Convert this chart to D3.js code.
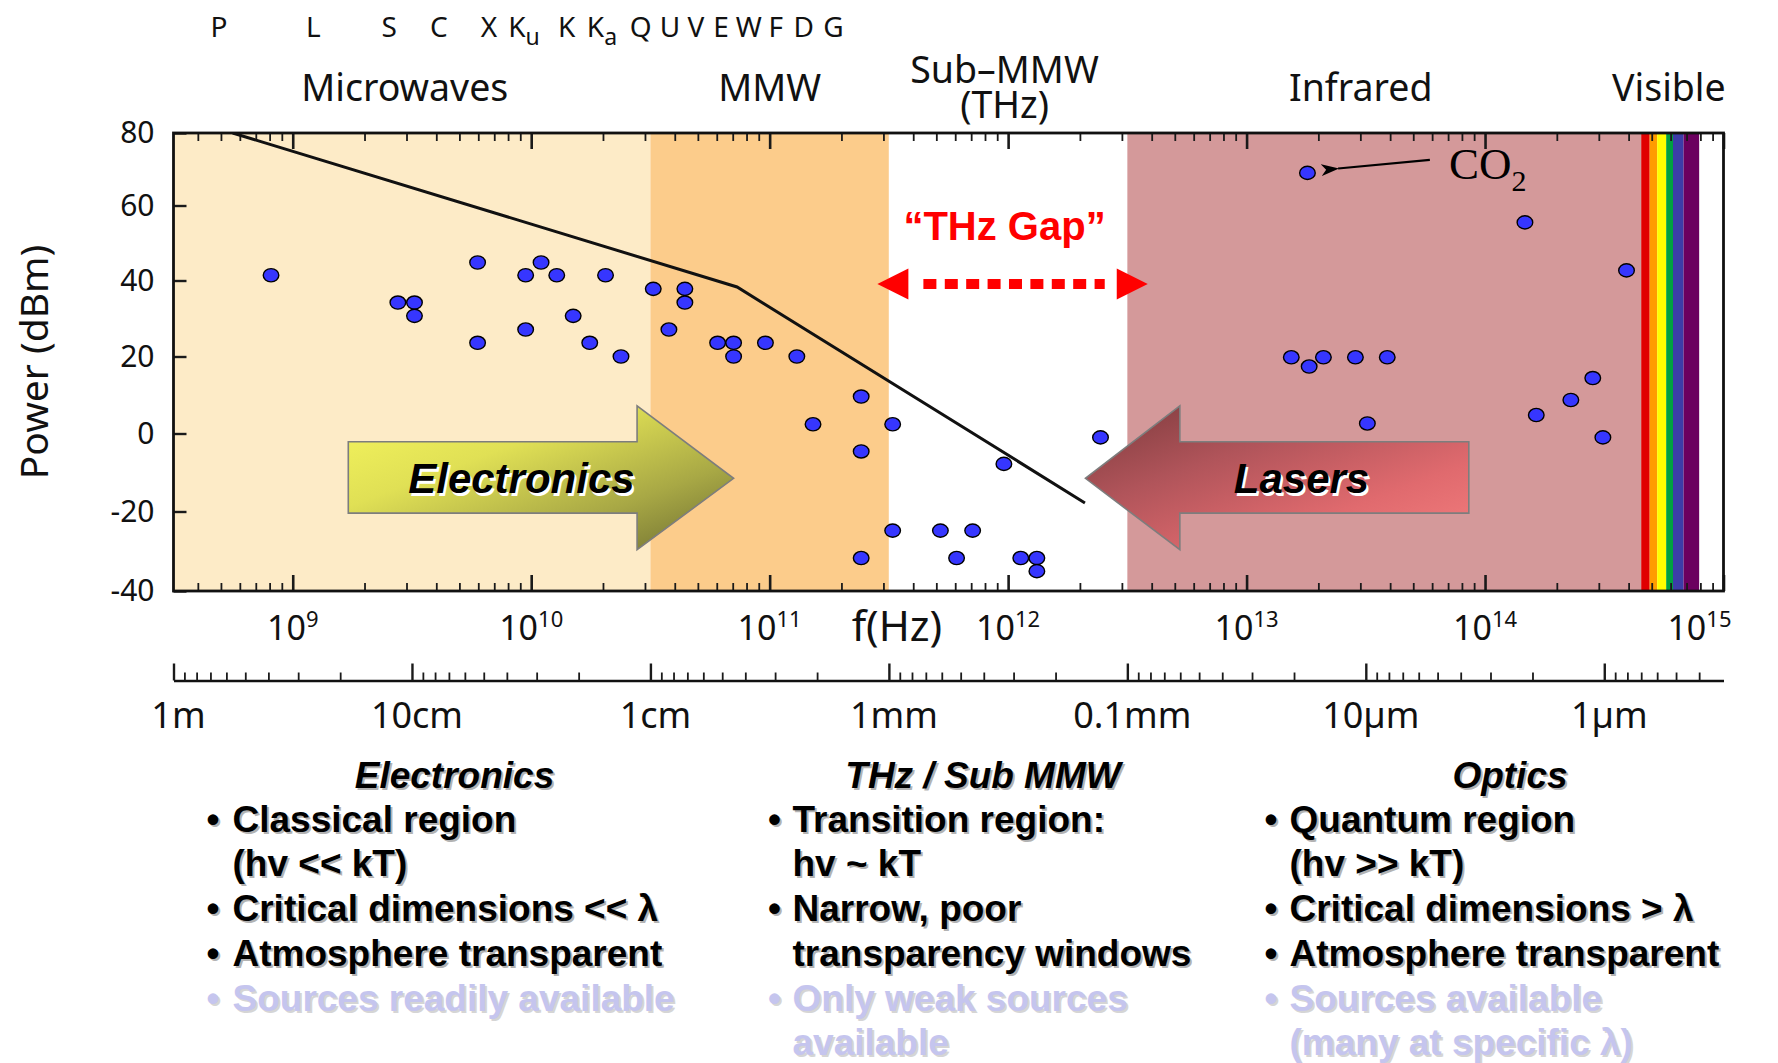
<!DOCTYPE html>
<html>
<head>
<meta charset="utf-8">
<title>THz gap – source power vs frequency</title>
<script src="https://cdn.jsdelivr.net/npm/d3@7"></script>
<style>
  html, body { margin: 0; padding: 0; background: #fff; }
  svg { display: block; }
</style>
</head>
<body>
<svg id="chart" width="1778" height="1063"></svg>
<script>
// ---------------- data ----------------
// Solid-state / vacuum electronic sources (frequency in Hz, output power in dBm)
const electronicFreqHz = [
  8.11e8, 2.76e9, 3.24e9, 3.24e9, 5.96e9, 5.96e9, 9.48e9, 1.10e10, 1.28e10, 1.50e10,
  9.48e9, 1.76e10, 2.05e10, 2.38e10, 3.25e10, 4.41e10, 4.41e10, 3.78e10, 6.05e10, 7.06e10,
  7.06e10, 9.6e10, 1.30e11, 2.42e11, 1.52e11, 3.28e11, 2.42e11, 3.28e11, 2.42e11, 9.6e11,
  2.44e12, 5.2e11, 7.1e11, 6.08e11, 1.13e12, 1.32e12, 1.32e12
];
const electronicPowerDbm = [
  41.4, 34.2, 34.2, 30.7, 44.8, 23.6, 41.4, 44.8, 41.4, 30.7,
  27.1, 23.6, 41.4, 20.0, 37.8, 37.8, 34.2, 27.1, 23.6, 23.6,
  20.0, 23.6, 20.0, 9.6, 2.4, 2.4, -4.6, -24.8, -31.7, -7.8,
  -1.0, -24.8, -24.8, -31.7, -31.7, -31.7, -35.0
];
// Laser sources (infrared and visible)
const laserFreqHz = [
  1.80e13, 1.47e14, 3.92e14, 1.54e13, 1.83e13, 2.10e13, 2.86e13, 3.89e13, 3.21e13,
  2.83e14, 2.29e14, 1.64e14, 3.12e14
];
const laserPowerDbm = [
  69.0, 55.5, 42.7, 19.8, 17.4, 19.8, 19.8, 19.8, 2.6,
  14.4, 8.7, 4.8, -1.0
];
// Upper envelope of electronic source power
const envelopeFreqHz = [5.6e8, 7.3e10, 2.1e12];
const envelopePowerDbm = [80, 38.3, -17.8];

// Axis ticks
const powerTicks = [80, 60, 40, 20, 0, -20, -40];
const decadeExponents = [9, 10, 11, 12, 13, 14, 15];
const wavelengthTicksM = [1, 0.1, 0.01, 1e-3, 1e-4, 1e-5, 1e-6];
const wavelengthTickLabels = ["1m", "10cm", "1cm", "1mm", "0.1mm", "10\u00b5m", "1\u00b5m"];

// Spectral regions (wavelength bounds in metres)
const regionNames = ["Microwaves", "MMW", "Sub\u2013MMW", "Infrared"];
const regionBoundsM = [[1, 1e-2], [1e-2, 1e-3], [1e-3, 1e-4], [1e-4, 7.0e-7]];
// Visible band stripes (nm)
const visibleBoundsNm = [700, 645, 600, 550, 515, 465, 400];

// Region captions above the plot (centre frequency, Hz); multi-line captions split on "|"
const regionCaptions = ["Microwaves", "MMW", "Sub\u2013MMW|(THz)", "Infrared", "Visible"];
const regionCaptionHz = [2.95e9, 1.0e11, 9.66e11, 3.01e13, 5.9e14];

// Radar band letters (label, subscript, centre frequency in GHz)
const bandLetters = ["P", "L", "S", "C", "X", "K", "K", "K", "Q", "U", "V", "E", "W", "F", "D", "G"];
const bandSubscripts = ["", "", "", "", "", "u", "", "a", "", "", "", "", "", "", "", ""];
const bandCentreGHz = [0.49, 1.22, 2.54, 4.1, 6.65, 9.33, 14.1, 19.8, 28.8, 38.2, 49.1, 62.5, 81.8, 106, 139, 185];

// Summary text under the chart
const columnHeadings = ["Electronics", "THz / Sub MMW", "Optics"];
const electronicsNotes = [
  ["\u2022", "Classical region"], ["", "(hv << kT)"], ["\u2022", "Critical dimensions << \u03bb"],
  ["\u2022", "Atmosphere transparent"], ["\u2022", "Sources readily available", "faded"]
];
const thzNotes = [
  ["\u2022", "Transition region:"], ["", "hv ~ kT"], ["\u2022", "Narrow, poor"],
  ["", "transparency windows"], ["\u2022", "Only weak sources", "faded"], ["", "available", "faded"]
];
const opticsNotes = [
  ["\u2022", "Quantum region"], ["", "(hv >> kT)"], ["\u2022", "Critical dimensions > \u03bb"],
  ["\u2022", "Atmosphere transparent"], ["\u2022", "Sources available", "faded"], ["", "(many at specific \u03bb)", "faded"]
];

// Annotation anchors, in data units
const electronicsArrow = { label: "Electronics", tailHz: 1.71e9, headBaseHz: 2.78e10, tipHz: 7.06e10,
  bodyTopDbm: -2.1, bodyBottomDbm: -20.4, headTopDbm: 7.2, headBottomDbm: -29.6, tipDbm: -11.5, labelHz: 9.1e9 };
const lasersArrow = { label: "Lasers", tailHz: 8.55e13, headBaseHz: 5.25e12, tipHz: 2.11e12,
  bodyTopDbm: -2.1, bodyBottomDbm: -20.4, headTopDbm: 7.2, headBottomDbm: -29.6, tipDbm: -11.5, labelHz: 1.70e13 };
const gapArrow = { fromHz: 2.83e11, toHz: 3.85e12, dbm: 39.1 };
const gapLabel = { text: "\u201cTHz Gap\u201d", hz: 9.66e11, dbm: 50.9 };
const co2Label = { hz: 7.06e13, dbm: 67.4 };
const co2Pointer = { fromHz: 5.87e13, fromDbm: 72.6, toHz: 2.42e13, toDbm: 70.2 };

// ---------------- styles ----------------
const sansFont = "'Noto Sans', 'Open Sans', 'DejaVu Sans', sans-serif";
const boldFont = "'Liberation Sans', Arial, Helvetica, sans-serif";
const serifFont = "'Liberation Serif', 'Times New Roman', serif";
const regionFills = ["#FDEBC7", "#FCCC8B", "#FFFFFF", "#D4999A"];
const visibleFills = ["#E00000", "#FF9C00", "#FFFF00", "#00A040", "#3C3CA8", "#6B005F"];
const dotFill = "#3636FF";
const fadedFill = "#C5C5EE";

// ---------------- layout & scales ----------------
const W = 1778, H = 1063;
const plot = { left: 173.5, right: 1723.5, top: 133, bottom: 591 };
const waveAxisY = 680.5;

const x = d3.scaleLog().domain([Math.pow(10, 8.5), 1e15]).range([plot.left, plot.right]);
const lam = d3.scaleLog().domain([1, Math.pow(10, -6.5)]).range([plot.left, plot.right]);
const y = d3.scaleLinear().domain(powerTicks).range([plot.top, 205.5, 280.5, 356.5, 433.5, 511.5, plot.bottom]);

const svg = d3.select("#chart");
svg.append("rect").attr("width", W).attr("height", H).attr("fill", "#fff");
const defs = svg.append("defs");

defs.append("clipPath").attr("id", "plotClip").append("rect")
  .attr("x", plot.left).attr("y", plot.top)
  .attr("width", plot.right - plot.left).attr("height", plot.bottom - plot.top);

// ---------------- background regions ----------------
const bg = svg.append("g").attr("clip-path", "url(#plotClip)");
bg.selectAll("rect.region").data(regionBoundsM).join("rect")
  .attr("class", "region")
  .attr("x", d => lam(d[0])).attr("width", d => lam(d[1]) - lam(d[0]))
  .attr("y", plot.top).attr("height", plot.bottom - plot.top)
  .attr("fill", (d, i) => regionFills[i]);

const stripes = d3.pairs(visibleBoundsNm);
bg.selectAll("rect.visible").data(stripes).join("rect")
  .attr("class", "visible")
  .attr("x", d => lam(d[0] * 1e-9)).attr("width", d => lam(d[1] * 1e-9) - lam(d[0] * 1e-9))
  .attr("y", plot.top).attr("height", plot.bottom - plot.top)
  .attr("fill", (d, i) => visibleFills[i]);

// ---------------- ticks inside the frame ----------------
const fMin = x.domain()[0], fMax = x.domain()[1];
const decadeHz = decadeExponents.map(e => Math.pow(10, e));
const minorHz = [];
for (let k = 8; k < 15; k++) for (let m = 2; m <= 9; m++) {
  const v = m * Math.pow(10, k);
  if (v >= fMin && v <= fMax) minorHz.push(v);
}

function tickOnly(g, axis, width) {
  g.call(axis);
  g.select(".domain").remove();
  g.selectAll("text").remove();
  g.selectAll("line").attr("stroke", "#1a1a1a").attr("stroke-width", width);
}
tickOnly(svg.append("g").attr("transform", `translate(0,${plot.bottom})`),
  d3.axisBottom(x).tickValues(minorHz).tickSize(-8), 1.8);
tickOnly(svg.append("g").attr("transform", `translate(0,${plot.bottom})`),
  d3.axisBottom(x).tickValues(decadeHz).tickSize(-16), 2.6);
tickOnly(svg.append("g").attr("transform", `translate(0,${plot.top})`),
  d3.axisTop(x).tickValues(minorHz).tickSize(-8), 1.8);
tickOnly(svg.append("g").attr("transform", `translate(0,${plot.top})`),
  d3.axisTop(x).tickValues(decadeHz).tickSize(-16), 2.6);

// Power axis (ticks inside, labels outside, plain hyphen for negatives)
const yAxis = svg.append("g").attr("transform", `translate(${plot.left},0)`)
  .call(d3.axisLeft(y).tickValues(powerTicks).tickSize(-13).tickPadding(19).tickFormat(d => String(d)));
yAxis.select(".domain").remove();
yAxis.selectAll("line").attr("stroke", "#1a1a1a").attr("stroke-width", 2.4);
yAxis.selectAll("text").attr("font-family", sansFont).attr("font-size", 30).attr("fill", "#111");

// ---------------- envelope and sources ----------------
const plotLayer = svg.append("g").attr("clip-path", "url(#plotClip)");
const envelope = envelopeFreqHz.map((f, i) => [f, envelopePowerDbm[i]]);
plotLayer.append("path")
  .attr("d", d3.line().x(d => x(d[0])).y(d => y(d[1]))(envelope))
  .attr("fill", "none").attr("stroke", "#111").attr("stroke-width", 3);

const sources = electronicFreqHz.map((f, i) => [f, electronicPowerDbm[i]])
  .concat(laserFreqHz.map((f, i) => [f, laserPowerDbm[i]]));
plotLayer.selectAll("ellipse.src").data(sources).join("ellipse")
  .attr("class", "src")
  .attr("cx", d => x(d[0])).attr("cy", d => y(d[1]))
  .attr("rx", 7.8).attr("ry", 6.6)
  .attr("fill", dotFill).attr("stroke", "#000").attr("stroke-width", 1.4);

// ---------------- block arrows ----------------
function gradient(id, stops) {
  const g = defs.append("linearGradient").attr("id", id)
    .attr("x1", 0).attr("y1", 0).attr("x2", 1).attr("y2", 1);
  stops.forEach(s => g.append("stop").attr("offset", s[0]).attr("stop-color", s[1]));
}
gradient("gradElectronics", [[0, "#F6F65E"], [0.35, "#E0E055"], [0.7, "#A8A845"], [1, "#6C6C30"]]);
gradient("gradLasers", [[0, "#7C3A3C"], [0.35, "#B0545A"], [0.7, "#E06A6E"], [1, "#F47E7E"]]);

function shadowLabel(g, px, py, text, size) {
  const t = g.append("g").attr("font-family", boldFont).attr("font-weight", "bold")
    .attr("font-style", "italic").attr("font-size", size).attr("text-anchor", "middle");
  t.append("text").attr("x", px + 2.2).attr("y", py + 2.2).attr("fill", "#fff").text(text);
  t.append("text").attr("x", px).attr("y", py).attr("fill", "#000").text(text);
}

function blockArrow(spec, gradId) {
  const xt = x(spec.tailHz), xb = x(spec.headBaseHz), xp = x(spec.tipHz);
  const yt = y(spec.bodyTopDbm), yb = y(spec.bodyBottomDbm);
  const ht = y(spec.headTopDbm), hb = y(spec.headBottomDbm), ym = y(spec.tipDbm);
  const pts = [[xt, yt], [xb, yt], [xb, ht], [xp, ym], [xb, hb], [xb, yb], [xt, yb]];
  const g = svg.append("g");
  g.append("path").attr("d", d3.line()(pts) + "Z")
    .attr("fill", `url(#${gradId})`).attr("stroke", "#7d7d7d").attr("stroke-width", 1.6)
    .attr("stroke-linejoin", "miter");
  shadowLabel(g, x(spec.labelHz), ym + 15, spec.label, 42);
}
blockArrow(electronicsArrow, "gradElectronics");
blockArrow(lasersArrow, "gradLasers");

// ---------------- THz gap annotation ----------------
const gapG = svg.append("g");
const gx0 = x(gapArrow.fromHz), gx1 = x(gapArrow.toHz), gy = y(gapArrow.dbm);
const headLen = 31, headHalf = 15.5;
gapG.append("line")
  .attr("x1", gx0 + headLen + 15).attr("x2", gx1 - headLen - 12)
  .attr("y1", gy).attr("y2", gy)
  .attr("stroke", "#FF0000").attr("stroke-width", 10).attr("stroke-dasharray", "13 8.4");
gapG.append("path")
  .attr("d", `M${gx0},${gy}L${gx0 + headLen},${gy - headHalf}L${gx0 + headLen},${gy + headHalf}Z`)
  .attr("fill", "#FF0000");
gapG.append("path")
  .attr("d", `M${gx1},${gy}L${gx1 - headLen},${gy - headHalf}L${gx1 - headLen},${gy + headHalf}Z`)
  .attr("fill", "#FF0000");
gapG.append("text")
  .attr("x", x(gapLabel.hz)).attr("y", y(gapLabel.dbm))
  .attr("text-anchor", "middle")
  .attr("font-family", boldFont).attr("font-weight", "bold").attr("font-size", 40)
  .attr("fill", "#FF0000").text(gapLabel.text);

// ---------------- CO2 annotation ----------------
defs.append("marker").attr("id", "ptrHead")
  .attr("viewBox", "0 0 18 12").attr("refX", 1).attr("refY", 6)
  .attr("markerWidth", 18).attr("markerHeight", 12).attr("markerUnits", "userSpaceOnUse")
  .attr("orient", "auto-start-reverse")
  .append("path").attr("d", "M0,6L18,0L13,6L18,12Z").attr("fill", "#000");
svg.append("line")
  .attr("x1", x(co2Pointer.toHz)).attr("y1", y(co2Pointer.toDbm))
  .attr("x2", x(co2Pointer.fromHz)).attr("y2", y(co2Pointer.fromDbm))
  .attr("stroke", "#000").attr("stroke-width", 2.2)
  .attr("marker-start", "url(#ptrHead)");
const co2 = svg.append("text")
  .attr("x", x(co2Label.hz)).attr("y", y(co2Label.dbm))
  .attr("font-family", serifFont).attr("font-size", 45).attr("fill", "#000");
co2.append("tspan").text("CO");
co2.append("tspan").attr("dy", 12).attr("font-size", 30).text("2");

// ---------------- frame ----------------
svg.append("rect")
  .attr("x", plot.left).attr("y", plot.top)
  .attr("width", plot.right - plot.left).attr("height", plot.bottom - plot.top)
  .attr("fill", "none").attr("stroke", "#111").attr("stroke-width", 2.8);

// ---------------- frequency labels ----------------
const fLab = svg.append("g").attr("font-family", sansFont).attr("fill", "#111");
decadeExponents.forEach(e => {
  const t = fLab.append("text")
    .attr("x", x(Math.pow(10, e))).attr("y", 639.5)
    .attr("text-anchor", "middle").attr("font-size", 34);
  t.append("tspan").text("10");
  t.append("tspan").attr("dy", -13).attr("font-size", 22).text(e);
  const bb = t.node().getBBox();
  const limit = plot.right + 8;
  if (bb.x + bb.width > limit) t.attr("x", +t.attr("x") - (bb.x + bb.width - limit));
});
fLab.append("text")
  .attr("x", (x(1e11) + x(1e12)) / 2 + 8).attr("y", 641)
  .attr("text-anchor", "middle").attr("font-size", 42).text("f(Hz)");

// ---------------- wavelength axis ----------------
const minorLam = [];
for (let k = 0; k > -7; k--) for (let m = 2; m <= 9; m++) {
  const v = m * Math.pow(10, k - 1);
  if (v <= 1 && v >= lam.domain()[1]) minorLam.push(v);
}
const wAxisMinor = svg.append("g").attr("transform", `translate(0,${waveAxisY})`)
  .call(d3.axisTop(lam).tickValues(minorLam).tickSize(8).tickSizeOuter(0).tickFormat(""));
wAxisMinor.select(".domain").attr("stroke", "#111").attr("stroke-width", 2.6);
wAxisMinor.selectAll("line").attr("stroke", "#1a1a1a").attr("stroke-width", 1.8);
const wAxisMajor = svg.append("g").attr("transform", `translate(0,${waveAxisY})`)
  .call(d3.axisTop(lam).tickValues(wavelengthTicksM).tickSize(17).tickSizeOuter(0).tickFormat(""));
wAxisMajor.select(".domain").remove();
wAxisMajor.selectAll("line").attr("stroke", "#1a1a1a").attr("stroke-width", 2.4);

svg.append("g").attr("font-family", sansFont).attr("font-size", 36).attr("fill", "#111")
  .selectAll("text").data(wavelengthTicksM).join("text")
  .attr("x", d => lam(d) + 5).attr("y", 728)
  .attr("text-anchor", "middle")
  .text((d, i) => wavelengthTickLabels[i]);

// ---------------- axis title ----------------
svg.append("text")
  .attr("transform", `translate(34,${(plot.top + plot.bottom) / 2}) rotate(-90)`)
  .attr("text-anchor", "middle").attr("dy", "0.35em")
  .attr("font-family", sansFont).attr("font-size", 39).attr("fill", "#111")
  .text("Power (dBm)");

// ---------------- region captions and band letters ----------------
const capG = svg.append("g").attr("font-family", sansFont).attr("font-size", 37.5)
  .attr("fill", "#111").attr("text-anchor", "middle");
regionCaptions.forEach((name, i) => {
  const cx = x(regionCaptionHz[i]);
  const lines = name.split("|");
  const t = capG.append("text").attr("x", cx).attr("y", lines.length > 1 ? 83 : 100.5);
  lines.forEach((ln, j) => t.append("tspan").attr("x", cx).attr("dy", j ? 35 : 0).text(ln));
});

const bandG = svg.append("g").attr("font-family", sansFont).attr("font-size", 28)
  .attr("fill", "#111").attr("text-anchor", "middle");
bandLetters.forEach((b, i) => {
  const t = bandG.append("text").attr("x", x(bandCentreGHz[i] * 1e9)).attr("y", 37);
  t.append("tspan").text(b);
  if (bandSubscripts[i]) t.append("tspan").attr("dy", 8).attr("font-size", 23).text(bandSubscripts[i]);
});

// ---------------- summary columns ----------------
const colBulletX = [213, 774.5, 1271];
const colTextX = [232.5, 792.5, 1289.5];
const colHeadX = [454.5, 983, 1510];
const headingY = 787.5;
const rowY = [831.5, 876, 921, 965.5, 1011, 1054.5];
const notes = [electronicsNotes, thzNotes, opticsNotes];

const sumG = svg.append("g").attr("font-family", boldFont).attr("font-weight", "bold").attr("font-size", 37);
function shadowed(g, px, py, text, fill, anchor, italic) {
  const shadowFill = fill === fadedFill ? "#c8c8c8" : "#9a9a9a";
  [[2, 2, shadowFill, 0.75], [0, 0, fill, 1]].forEach(s => {
    g.append("text").attr("x", px + s[0]).attr("y", py + s[1])
      .attr("fill", s[2]).attr("fill-opacity", s[3])
      .attr("text-anchor", anchor).attr("font-style", italic ? "italic" : "normal")
      .text(text);
  });
}
columnHeadings.forEach((h, c) => {
  shadowed(sumG, colHeadX[c], headingY, h, "#000", "middle", true);
  notes[c].forEach((row, r) => {
    const fill = row[2] === "faded" ? fadedFill : "#000";
    if (row[0]) shadowed(sumG, colBulletX[c], rowY[r], row[0], fill, "middle", false);
    shadowed(sumG, colTextX[c], rowY[r], row[1], fill, "start", false);
  });
});
</script>
</body>
</html>
